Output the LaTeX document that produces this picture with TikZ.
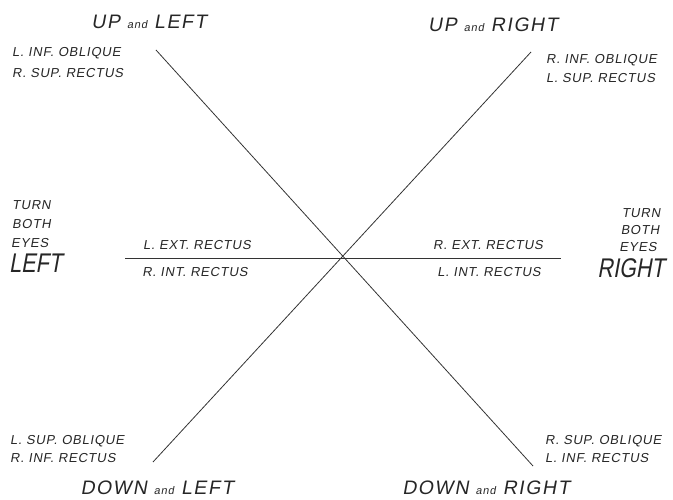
\documentclass[tikz,border=0pt]{standalone}
\usepackage{fontspec}
\newfontfamily\hand[FakeSlant=0.18,LetterSpace=6]{Liberation Sans}
\newfontfamily\handh[FakeSlant=0.18,LetterSpace=8]{Liberation Sans}
\newfontfamily\handn[FakeSlant=0.18,FakeStretch=0.8]{Liberation Sans}
\begin{document}
\begin{tikzpicture}[x=1pt,y=-1pt,
  axis/.style={line width=0.8pt,draw=black!80},
  lab/.style={inner sep=0pt,font=\hand\fontsize{13}{14}\selectfont,text=black!85},
  head/.style={inner sep=0pt,font=\handh\fontsize{19.5}{20}\selectfont,text=black!85},
  big/.style={inner sep=0pt,font=\handn\fontsize{27}{28}\selectfont,text=black!85}]
\useasboundingbox (0,0) rectangle (673,500);
% line end points
\coordinate (ul) at (156,50);
\coordinate (dr) at (533,466);
\coordinate (ur) at (531,52);
\coordinate (dl) at (153,462);
\coordinate (hl) at (125,258);
\coordinate (hr) at (561,258);
\draw[axis] (ul) -- (dr);
\draw[axis] (ur) -- (dl);
\draw[axis] (hl) -- (hr);
% headings
\node[head] (hUL) at (149,22) {UP {\fontsize{11}{12}\selectfont and} LEFT};
\node[head] (hUR) at (493,25) {UP {\fontsize{11}{12}\selectfont and} RIGHT};
\node[head] (hDL) at (157,488) {DOWN {\fontsize{11}{12}\selectfont and} LEFT};
\node[head] (hDR) at (486,488) {DOWN {\fontsize{11}{12}\selectfont and} RIGHT};
% corner muscle labels
\node[lab,anchor=west] (a1) at (12,53) {L. INF. OBLIQUE};
\node[lab,anchor=west] (a2) at (12,73) {R. SUP. RECTUS};
\node[lab,anchor=west] (b1) at (546,60) {R. INF. OBLIQUE};
\node[lab,anchor=west] (b2) at (546,78) {L. SUP. RECTUS};
\node[lab,anchor=west] (c1) at (10,441) {L. SUP. OBLIQUE};
\node[lab,anchor=west] (c2) at (10,458) {R. INF. RECTUS};
\node[lab,anchor=west] (d1) at (545,441) {R. SUP. OBLIQUE};
\node[lab,anchor=west] (d2) at (545,458) {L. INF. RECTUS};
% horizontal labels
\node[lab] (e1) at (197,245) {L. EXT. RECTUS};
\node[lab] (e2) at (195,272) {R. INT. RECTUS};
\node[lab] (f1) at (488,245) {R. EXT. RECTUS};
\node[lab] (f2) at (489,272) {L. INT. RECTUS};
% turn both eyes
\node[lab,anchor=west] (t1) at (12,205) {TURN};
\node[lab,anchor=west] (t2) at (12,224) {BOTH};
\node[lab,anchor=west] (t3) at (11,243) {EYES};
\node[big,anchor=west] (t4) at (9,263) {LEFT};
\node[lab] (r1) at (641,213) {TURN};
\node[lab] (r2) at (640,230) {BOTH};
\node[lab] (r3) at (638,247) {EYES};
\node[big] (r4) at (631,268) {RIGHT};
\end{tikzpicture}
\end{document}
